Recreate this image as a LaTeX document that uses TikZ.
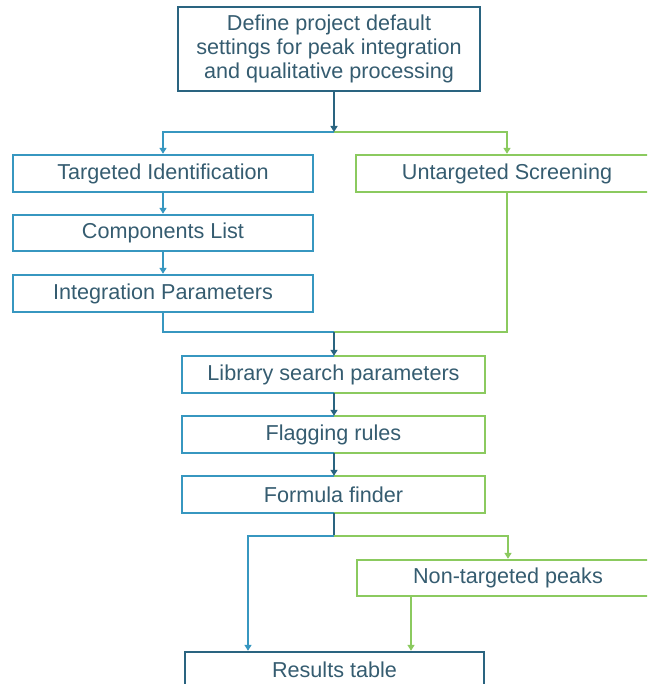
\documentclass[tikz,border=0pt]{standalone}
\usepackage{fontspec}
\setmainfont{Liberation Sans}
\usetikzlibrary{arrows.meta}
\definecolor{cdark}{HTML}{2A6480}
\definecolor{cblue}{HTML}{3797C0}
\definecolor{cgreen}{HTML}{8BCA5F}
\definecolor{ctext}{HTML}{355C70}
\tikzset{
  box/.style={rectangle, inner sep=0pt, line width=2.4pt, text=ctext,
    font=\fontsize{21.6}{23.8}\selectfont, align=center},
  conn/.style={line width=2pt},
  arr/.style={conn, -{Triangle[length=6pt,width=7pt]}},
}
\begin{document}
\begin{tikzpicture}[x=1pt,y=-1pt]
\useasboundingbox (0,0) rectangle (647,684);
\clip (0,0) rectangle (647,684);
% nodes
\node[box, draw=cdark, minimum width=302pt, minimum height=84pt] (top) at (329,49)
  {Define project default\\settings for peak integration\\and qualitative processing};
\node[box, draw=cblue, minimum width=300pt, minimum height=37pt] (tid) at (163,173.5) {Targeted Identification};
\node[box, draw=cblue, minimum width=300pt, minimum height=36pt] (comp) at (163,233) {Components List};
\node[box, draw=cblue, minimum width=300pt, minimum height=37pt] (integ) at (163,293.5) {Integration Parameters};
\node[box, draw=cgreen, minimum width=302pt, minimum height=37pt] (unt) at (507,173.5) {Untargeted Screening};
\node[box, minimum width=301pt, minimum height=35pt] (lib) at (333.5,374.5) {Library search parameters};
\node[box, minimum width=301pt, minimum height=35pt] (flag) at (333.5,434.5) {Flagging rules};
\node[box, minimum width=301pt, minimum height=35pt] (form) at (333.5,494.5) {Formula finder};
\node[box, draw=cgreen, minimum width=302pt, minimum height=36pt] (ntp) at (508,578) {Non-targeted peaks};
\node[box, draw=cdark, minimum width=299pt, minimum height=36pt] (res) at (334.5,670) {Results table};
% two-coloured borders
\foreach \n in {lib,flag,form}{
  \draw[cblue, line width=2.4pt, line join=miter] (\n.north) -- (\n.north west) -- (\n.south west) -- (\n.south);
  \draw[cgreen, line width=2.4pt, line join=miter] (\n.north) -- (\n.north east) -- (\n.south east) -- (\n.south);
}
% coordinates
\coordinate (split) at (334,132);
\coordinate (merge) at (334,332);
\coordinate (split2) at (334,536);
% connectors
\draw[cblue, arr] (split) -| (tid.north);
\draw[cgreen, arr] (split) -| (unt.north);
\draw[cdark, arr] (split |- top.south) -- (split);
\draw[cblue, arr] (tid) -- (comp);
\draw[cblue, arr] (comp) -- (integ);
\draw[cblue, conn] (integ.south) |- (merge);
\draw[cgreen, conn] (unt.south) |- (merge);
\draw[cdark, arr] (merge) -- (merge |- lib.north);
\draw[cdark, arr] (lib.south -| merge) -- (merge |- flag.north);
\draw[cdark, arr] (flag.south -| merge) -- (merge |- form.north);
\draw[cdark, conn] (form.south -| split2) -- (split2);
\draw[cblue, arr] (split2) -| ([xshift=-86.5pt]res.north);
\draw[cgreen, arr] (split2) -| (ntp.north);
\draw[cgreen, arr] ([xshift=-97pt]ntp.south) -- ([xshift=-97pt]ntp.south |- res.north);
\end{tikzpicture}
\end{document}
